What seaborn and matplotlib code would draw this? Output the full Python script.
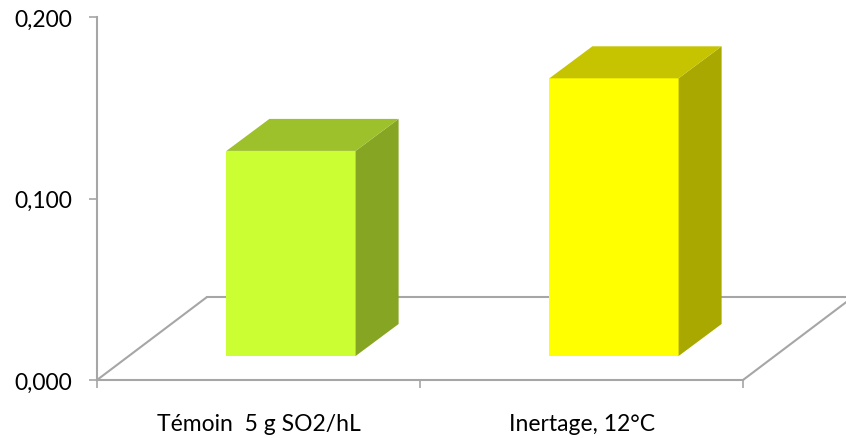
import matplotlib
matplotlib.use("Agg")
import matplotlib.pyplot as plt
from matplotlib.patches import Polygon
from matplotlib.transforms import Affine2D
import seaborn as sns

# Data
categories = ["Témoin  5 g SO2/hL", "Inertage, 12°C"]
values = [0.113, 0.153]
ytick_values = [0.0, 0.1, 0.2]
ytick_labels = ["0,000", "0,100", "0,200"]

# Face colours per bar: front, side, top
front_colors = ["#CCFF33", "#FFFF00"]
side_colors = ["#86A523", "#A8A800"]
top_colors = ["#9DC12B", "#C6C400"]

GRID = "#A6A6A6"

sns.set_theme(style="white")
plt.rcParams["font.family"] = ["Lato", "DejaVu Sans"]

W, H = 846, 439
fig = plt.figure(figsize=(W / 100, H / 100), dpi=100)
ax = fig.add_axes([97 / W, 58 / H, 646 / W, 363 / H])

sns.barplot(x=categories, y=values, hue=categories, palette=front_colors,
            saturation=1, width=0.4, legend=False, ax=ax, zorder=3)

ax.set_xlim(-0.5, 1.5)
ax.set_ylim(0, 0.2)
ax.set_xlabel("")
ax.set_ylabel("")

# Spines: front floor edge and value axis
for s in ["top", "right"]:
    ax.spines[s].set_visible(False)
for s in ["left", "bottom"]:
    ax.spines[s].set_color(GRID)
    ax.spines[s].set_linewidth(1.5)

ax.set_yticks(ytick_values)
ax.set_yticklabels(ytick_labels)
ax.set_xticks([0, 1])
ax.set_xticklabels(categories)
ax.set_xticks([-0.5, 0.5, 1.5], minor=True)
ax.tick_params(axis="y", which="major", left=True, length=6, width=1.2,
               color=GRID, pad=12, labelsize=16.5, labelcolor="black")
ax.tick_params(axis="x", which="major", bottom=True, length=0, pad=24,
               labelsize=16.5, labelcolor="black")
ax.tick_params(axis="x", which="minor", bottom=True, length=6, width=1.2,
               color=GRID)

# Oblique depth offsets in pixels (x right, y up)
floor_dx, floor_dy = 110, 83
bar_dx0, bar_dy0 = 32.5, 24
bar_ddx, bar_ddy = 43, 32

# Floor: back edge and side edges
x0, x1 = ax.get_xlim()
p0 = ax.transData.transform((x0, 0))
p1 = ax.transData.transform((x1, 0))
floor_lines = [
    [p0, (p0[0] + floor_dx, p0[1] + floor_dy)],
    [(p0[0] + floor_dx, p0[1] + floor_dy), (p1[0] + floor_dx, p1[1] + floor_dy)],
    [p1, (p1[0] + floor_dx, p1[1] + floor_dy)],
]
for a, b in floor_lines:
    ax.add_line(plt.Line2D([a[0], b[0]], [a[1], b[1]], transform=None,
                           color=GRID, lw=1.5, zorder=1, clip_on=False))

# Turn each bar into a box: shift front face, add side and top faces
shift = Affine2D().translate(bar_dx0, bar_dy0)
for i, patch in enumerate(ax.patches):
    bx, by = patch.get_x(), patch.get_y()
    bw, bh = patch.get_width(), patch.get_height()
    patch.set_transform(ax.transData + shift)
    patch.set_edgecolor("none")
    patch.set_clip_on(False)
    br = ax.transData.transform((bx + bw, by)) + (bar_dx0, bar_dy0)
    tl = ax.transData.transform((bx, by + bh)) + (bar_dx0, bar_dy0)
    tr = ax.transData.transform((bx + bw, by + bh)) + (bar_dx0, bar_dy0)
    d = (bar_ddx, bar_ddy)
    side = Polygon([br, tr, tr + d, br + d], closed=True, transform=None,
                   facecolor=side_colors[i], edgecolor="none", zorder=3,
                   clip_on=False)
    top = Polygon([tl, tr, tr + d, tl + d], closed=True, transform=None,
                  facecolor=top_colors[i], edgecolor="none", zorder=3,
                  clip_on=False)
    ax.add_patch(side)
    ax.add_patch(top)

fig.savefig("out.png", dpi=100)
